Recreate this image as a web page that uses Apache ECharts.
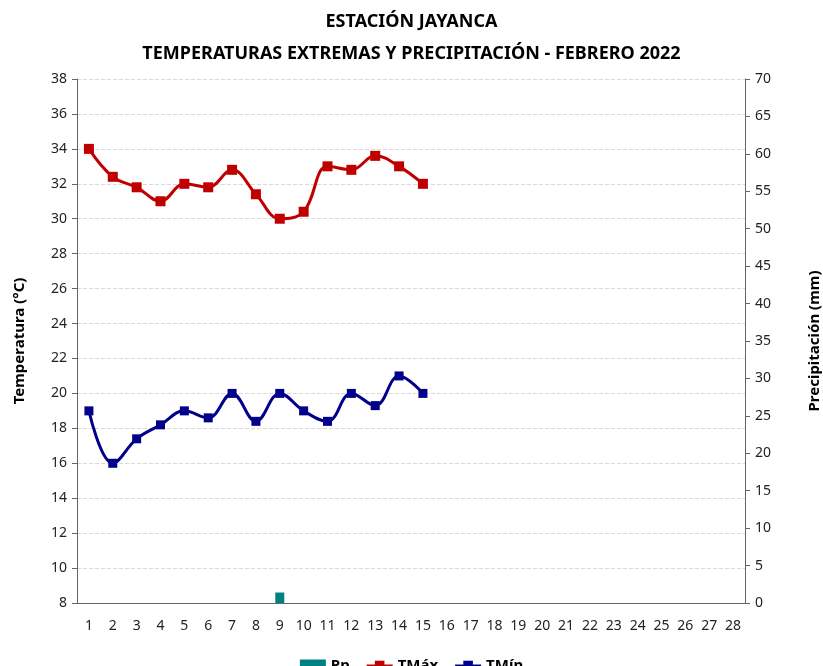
<!DOCTYPE html>
<html>
<head>
<meta charset="utf-8">
<script src="https://cdn.jsdelivr.net/npm/echarts@6/dist/echarts.min.js"></script>
<style>
  html,body{margin:0;padding:0;background:#fff;}
  #chart{width:823px;height:666px;}
</style>
</head>
<body>
<div id="chart"></div>
<script>
  // dias del mes
  var dias = [];
  for (var d = 1; d <= 28; d++) { dias.push(String(d)); }
  var tmax = [34.0, 32.4, 31.8, 31.0, 32.0, 31.8, 32.8, 31.4, 30.0, 30.4, 33.0, 32.8, 33.6, 33.0, 32.0];
  var tmin = [19.0, 16.0, 17.4, 18.2, 19.0, 18.6, 20.0, 18.4, 20.0, 19.0, 18.4, 20.0, 19.3, 21.0, 20.0];
  var pp = [0, 0, 0, 0, 0, 0, 0, 0, 1.4, 0, 0, 0, 0, 0, 0];

  var chart = echarts.init(document.getElementById('chart'));
  var fuente = 'Noto Sans';
  chart.setOption({
    animation: false,
    title: {
      text: 'ESTACIÓN JAYANCA\nTEMPERATURAS EXTREMAS Y PRECIPITACIÓN - FEBRERO 2022',
      left: 'center',
      top: 1,
      textStyle: {fontFamily: fuente, fontSize: 18, fontWeight: 'bold', color: '#000', lineHeight: 32}
    },
    legend: {
      bottom: -12,
      left: 'center',
      itemGap: 16,
      itemWidth: 26,
      itemHeight: 12,
      textStyle: {fontFamily: fuente, fontSize: 15, fontWeight: 'bold', color: '#000'},
      data: [
        {name: 'Pp', icon: 'rect'},
        {name: 'TMáx'},
        {name: 'TMín'}
      ]
    },
    grid: {left: 77, right: 78, top: 79, bottom: 63, outerBoundsMode: 'none', containLabel: false},
    xAxis: {
      type: 'category',
      data: dias,
      boundaryGap: true,
      axisLine: {lineStyle: {color: '#666'}},
      axisTick: {lineStyle: {color: '#333'}, length: 5},
      axisLabel: {fontFamily: fuente, fontSize: 14, color: '#222', margin: 16}
    },
    yAxis: [
      {
        type: 'value',
        min: 8, max: 38, interval: 2,
        name: 'Temperatura (°C)',
        nameLocation: 'middle',
        nameGap: 50,
        nameTextStyle: {fontFamily: fuente, fontSize: 15, fontWeight: 'bold', color: '#000'},
        axisLine: {show: true, lineStyle: {color: '#666'}},
        axisTick: {show: true, lineStyle: {color: '#666'}, length: 5},
        axisLabel: {fontFamily: fuente, fontSize: 14, color: '#222', margin: 10},
        splitLine: {lineStyle: {color: '#d9d9d9', type: 'dashed'}}
      },
      {
        type: 'value',
        min: 0, max: 70, interval: 5,
        name: 'Precipitación (mm)',
        nameLocation: 'middle',
        nameGap: 62,
        nameRotate: 90,
        nameTextStyle: {fontFamily: fuente, fontSize: 15, fontWeight: 'bold', color: '#000'},
        axisLine: {show: true, lineStyle: {color: '#666'}},
        axisTick: {show: true, lineStyle: {color: '#666'}, length: 5},
        axisLabel: {fontFamily: fuente, fontSize: 14, color: '#222', margin: 10},
        splitLine: {show: false}
      }
    ],
    series: [
      {
        name: 'Pp',
        type: 'bar',
        yAxisIndex: 1,
        data: pp,
        barWidth: 9,
        itemStyle: {color: '#008080'}
      },
      {
        name: 'TMáx',
        type: 'line',
        data: tmax,
        smooth: 0.4,
        symbol: 'rect',
        symbolSize: 10,
        lineStyle: {color: '#c00000', width: 3},
        itemStyle: {color: '#c00000'}
      },
      {
        name: 'TMín',
        type: 'line',
        data: tmin,
        smooth: 0.4,
        symbol: 'rect',
        symbolSize: 9,
        lineStyle: {color: '#00008b', width: 3},
        itemStyle: {color: '#00008b'}
      }
    ]
  });
</script>
</body>
</html>
